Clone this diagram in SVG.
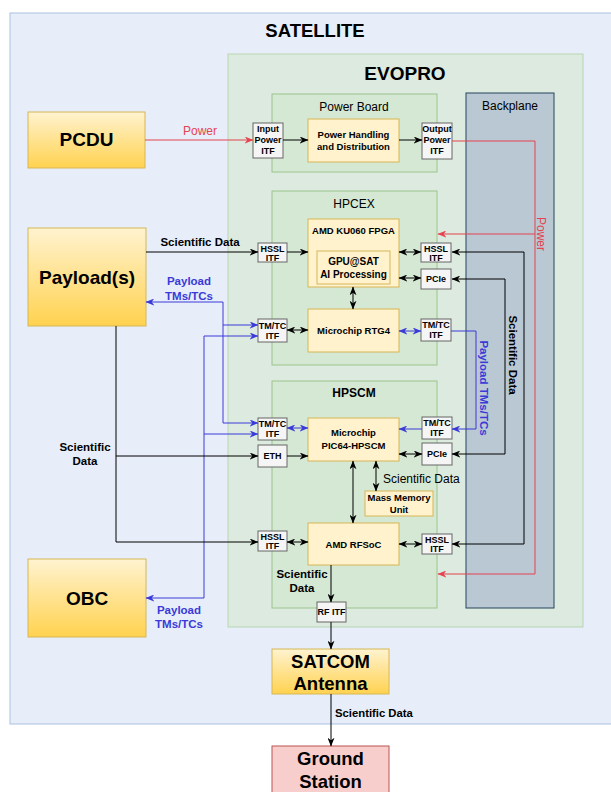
<svg xmlns="http://www.w3.org/2000/svg" width="611" height="792" viewBox="0 0 611 792">
<style>
text{font-family:"Liberation Sans",Arial,sans-serif;fill:#000}
.b{font-weight:bold}
.itf{fill:#F5F5F5;stroke:#666;stroke-width:1}
.comp{fill:#FFF2CC;stroke:#D6B656;stroke-width:1}
.board{fill:#D5E8D4;stroke:#9AC48C;stroke-width:1}
.ext{fill:url(#yg);stroke:#D6B656;stroke-width:1}
.ln{fill:none;stroke:#000;stroke-width:1}
.bl{fill:none;stroke:#3A3AD8;stroke-width:1}
.rd{fill:none;stroke:#E5434F;stroke-width:1}
.t9{font-size:9px;font-weight:bold}
.t95{font-size:9.5px;font-weight:bold}
</style>
<defs>
<linearGradient id="yg" x1="0" y1="0" x2="0" y2="1">
<stop offset="0" stop-color="#FFF3D0"/>
<stop offset="1" stop-color="#FFD24F"/>
</linearGradient>
<marker id="ak" viewBox="0 0 10 8" refX="9.5" refY="4" markerWidth="9" markerHeight="7" orient="auto-start-reverse" markerUnits="userSpaceOnUse"><path d="M0,0 L10,4 L0,8 L3,4 z" fill="#000"/></marker>
<marker id="ab" viewBox="0 0 10 8" refX="9.5" refY="4" markerWidth="9" markerHeight="7" orient="auto-start-reverse" markerUnits="userSpaceOnUse"><path d="M0,0 L10,4 L0,8 L3,4 z" fill="#3A3AD8"/></marker>
<marker id="ar" viewBox="0 0 10 8" refX="9.5" refY="4" markerWidth="9" markerHeight="7" orient="auto-start-reverse" markerUnits="userSpaceOnUse"><path d="M0,0 L10,4 L0,8 L3,4 z" fill="#E5434F"/></marker>
</defs>

<g id="satellite">
<rect x="10" y="13" width="610" height="711" fill="#E7EEF9" stroke="#A9C1E2"/>
<text x="315" y="37" class="b" font-size="18.5" text-anchor="middle">SATELLITE</text>
</g>
<g id="evopro">
<rect x="228" y="54" width="355" height="573" fill="#DCEADF" stroke="#B7D5B2"/>
<text x="405" y="80" class="b" font-size="19" text-anchor="middle">EVOPRO</text>
</g>
<g id="backplane">
<rect x="466" y="93" width="88" height="515" fill="#BAC8D3" stroke="#23445D"/>
<text x="510" y="110" font-size="12" text-anchor="middle">Backplane</text>
</g>
<g id="power-board">
<rect x="272" y="94" width="165" height="78" class="board"/>
<text x="354" y="111" font-size="12" text-anchor="middle">Power Board</text>
</g>
<g id="hpcex">
<rect x="272" y="191" width="165" height="174" class="board"/>
<text x="354" y="208" font-size="12" text-anchor="middle">HPCEX</text>
</g>
<g id="hpscm">
<rect x="272" y="381" width="165" height="227" class="board"/>
<text x="354" y="397" font-size="12" class="b" text-anchor="middle">HPSCM</text>
</g>

<g id="pcdu">
<rect x="28" y="112" width="117" height="56" class="ext"/>
<text x="86.5" y="146" class="b" font-size="19" text-anchor="middle">PCDU</text>
</g>
<g id="payloads">
<rect x="28" y="228" width="118" height="98" class="ext"/>
<text x="87" y="284" class="b" font-size="19" text-anchor="middle">Payload(s)</text>
</g>
<g id="obc">
<rect x="28" y="559" width="118" height="78" class="ext"/>
<text x="87" y="605" class="b" font-size="19" text-anchor="middle">OBC</text>
</g>
<g id="satcom">
<rect x="272" y="649" width="117" height="45" class="ext"/>
<text x="330.5" y="668" class="b" font-size="18.5" text-anchor="middle">SATCOM</text>
<text x="330.5" y="690" class="b" font-size="18.5" text-anchor="middle">Antenna</text>
</g>
<g id="ground-station">
<rect x="272" y="746" width="117" height="60" fill="#F8CECC" stroke="#B85450"/>
<text x="330.5" y="765" class="b" font-size="18.5" text-anchor="middle">Ground</text>
<text x="330.5" y="788" class="b" font-size="18.5" text-anchor="middle">Station</text>
</g>

<g id="input-power-itf">
<rect x="253" y="123" width="30" height="35" class="itf"/>
<text x="268" y="132" class="t9" text-anchor="middle">Input</text>
<text x="268" y="143" class="t9" text-anchor="middle">Power</text>
<text x="268" y="154" class="t9" text-anchor="middle">ITF</text>
</g>
<g id="power-handling">
<rect x="308" y="119" width="91" height="43" class="comp"/>
<text x="353.5" y="138" class="t95" text-anchor="middle">Power Handling</text>
<text x="353.5" y="150" class="t95" text-anchor="middle">and Distribution</text>
</g>
<g id="output-power-itf">
<rect x="422" y="123" width="30" height="36" class="itf"/>
<text x="437" y="132" class="t9" text-anchor="middle">Output</text>
<text x="437" y="143" class="t9" text-anchor="middle">Power</text>
<text x="437" y="154" class="t9" text-anchor="middle">ITF</text>
</g>

<g id="fpga">
<rect x="308" y="219" width="91" height="68" class="comp"/>
<text x="353.5" y="234" class="t95" text-anchor="middle">AMD KU060 FPGA</text>
</g>
<g id="gpu-sat">
<rect x="317" y="251" width="73" height="33" class="comp"/>
<text x="353.5" y="265" font-size="10" class="b" text-anchor="middle">GPU@SAT</text>
<text x="353.5" y="278" font-size="10" class="b" text-anchor="middle">AI Processing</text>
</g>
<g id="rtg4">
<rect x="308" y="309" width="91" height="43" class="comp"/>
<text x="353.5" y="334" class="t95" text-anchor="middle">Microchip RTG4</text>
</g>
<g id="hpcex-hssl-l">
<rect x="258" y="243" width="29" height="19" class="itf"/>
<text x="272.5" y="252" class="t9" text-anchor="middle">HSSL</text>
<text x="272.5" y="261" class="t9" text-anchor="middle">ITF</text>
</g>
<g id="hpcex-tmtc-l">
<rect x="258" y="319" width="29" height="23" class="itf"/>
<text x="272.5" y="329" class="t9" text-anchor="middle">TM/TC</text>
<text x="272.5" y="339" class="t9" text-anchor="middle">ITF</text>
</g>
<g id="hpcex-hssl-r">
<rect x="421" y="243" width="30" height="19" class="itf"/>
<text x="436" y="252" class="t9" text-anchor="middle">HSSL</text>
<text x="436" y="261" class="t9" text-anchor="middle">ITF</text>
</g>
<g id="hpcex-pcie">
<rect x="421" y="269" width="30" height="20" class="itf"/>
<text x="436" y="282" class="t9" text-anchor="middle">PCIe</text>
</g>
<g id="hpcex-tmtc-r">
<rect x="421" y="319" width="30" height="22" class="itf"/>
<text x="436" y="328" class="t9" text-anchor="middle">TM/TC</text>
<text x="436" y="338" class="t9" text-anchor="middle">ITF</text>
</g>

<g id="pic64">
<rect x="308" y="418" width="91" height="43" class="comp"/>
<text x="353.5" y="436" class="t95" text-anchor="middle">Microchip</text>
<text x="353.5" y="449" class="t95" text-anchor="middle">PIC64-HPSCM</text>
</g>
<g id="mmu">
<rect x="365" y="491" width="68" height="25" class="comp"/>
<text x="399" y="501" class="t95" text-anchor="middle">Mass Memory</text>
<text x="399" y="513" class="t95" text-anchor="middle">Unit</text>
</g>
<g id="rfsoc">
<rect x="308" y="523" width="91" height="42" class="comp"/>
<text x="353.5" y="548" class="t95" text-anchor="middle">AMD RFSoC</text>
</g>
<g id="hpscm-tmtc-l">
<rect x="258" y="418" width="29" height="22" class="itf"/>
<text x="272.5" y="427" class="t9" text-anchor="middle">TM/TC</text>
<text x="272.5" y="437" class="t9" text-anchor="middle">ITF</text>
</g>
<g id="hpscm-eth">
<rect x="258" y="445" width="29" height="22" class="itf"/>
<text x="272.5" y="459" class="t9" text-anchor="middle">ETH</text>
</g>
<g id="hpscm-hssl-l">
<rect x="258" y="531" width="29" height="20" class="itf"/>
<text x="272.5" y="540" class="t9" text-anchor="middle">HSSL</text>
<text x="272.5" y="549" class="t9" text-anchor="middle">ITF</text>
</g>
<g id="hpscm-tmtc-r">
<rect x="422" y="417" width="30" height="22" class="itf"/>
<text x="437" y="426" class="t9" text-anchor="middle">TM/TC</text>
<text x="437" y="436" class="t9" text-anchor="middle">ITF</text>
</g>
<g id="hpscm-pcie">
<rect x="422" y="443" width="30" height="22" class="itf"/>
<text x="437" y="457" class="t9" text-anchor="middle">PCIe</text>
</g>
<g id="hpscm-hssl-r">
<rect x="422" y="534" width="30" height="20" class="itf"/>
<text x="437" y="543" class="t9" text-anchor="middle">HSSL</text>
<text x="437" y="552" class="t9" text-anchor="middle">ITF</text>
</g>
<g id="rf-itf">
<rect x="317" y="602" width="29" height="20" class="itf"/>
<text x="331.5" y="615" class="t9" text-anchor="middle">RF ITF</text>
</g>

<g id="connectors">
<path class="rd" d="M145,140 H253" marker-end="url(#ar)"/>
<path class="ln" d="M283,140 H308" marker-end="url(#ak)"/>
<path class="ln" d="M399,140 H422" marker-end="url(#ak)"/>
<path class="rd" d="M452,141 H535 V574 H438" marker-end="url(#ar)"/>
<path class="rd" d="M535,234 H438" marker-end="url(#ar)"/>

<path class="ln" d="M146,252 H258" marker-end="url(#ak)"/>
<path class="ln" d="M287,252 H308" marker-end="url(#ak)"/>
<path class="ln" d="M399,252 H421" marker-start="url(#ak)" marker-end="url(#ak)"/>
<path class="ln" d="M399,278 H421" marker-start="url(#ak)" marker-end="url(#ak)"/>
<path class="ln" d="M353,287 V309" marker-start="url(#ak)" marker-end="url(#ak)"/>
<path class="ln" d="M287,330 H308" marker-start="url(#ak)" marker-end="url(#ak)"/>
<path class="bl" d="M399,331 H421" marker-start="url(#ab)" marker-end="url(#ab)"/>
<path class="bl" d="M451,331 H476 V429 H452" marker-end="url(#ab)"/>
<path class="bl" d="M422,429 H399" marker-end="url(#ab)"/>
<path class="ln" d="M399,454 H422" marker-start="url(#ak)" marker-end="url(#ak)"/>
<path class="ln" d="M452,252 H524 V544 H452" marker-start="url(#ak)" marker-end="url(#ak)"/>
<path class="ln" d="M452,279 H505 V454 H452" marker-start="url(#ak)" marker-end="url(#ak)"/>
<path class="ln" d="M399,544 H422" marker-start="url(#ak)" marker-end="url(#ak)"/>
<path class="ln" d="M353,461 V523" marker-start="url(#ak)" marker-end="url(#ak)"/>
<path class="ln" d="M376,461 V491" marker-start="url(#ak)" marker-end="url(#ak)"/>

<path class="bl" d="M258,325 H223 V302 H146" marker-start="url(#ab)" marker-end="url(#ab)"/>
<path class="bl" d="M223,325 V423 H258" marker-end="url(#ab)"/>
<path class="bl" d="M258,336 H204 V598 H146" marker-start="url(#ab)" marker-end="url(#ab)"/>
<path class="bl" d="M204,434 H258" marker-end="url(#ab)"/>
<path class="bl" d="M287,428 H308" marker-start="url(#ab)" marker-end="url(#ab)"/>

<path class="ln" d="M116,326 V542 H258" marker-end="url(#ak)"/>
<path class="ln" d="M116,456 H258" marker-end="url(#ak)"/>
<path class="ln" d="M287,456 H308" marker-end="url(#ak)"/>
<path class="ln" d="M287,542 H308" marker-start="url(#ak)" marker-end="url(#ak)"/>
<path class="ln" d="M331,565 V602" marker-end="url(#ak)"/>
<path class="ln" d="M331,622 V649" marker-end="url(#ak)"/>
<path class="ln" d="M331,694 V746" marker-end="url(#ak)"/>

<text x="200" y="135" font-size="12" fill="#E5434F" style="fill:#E5434F" text-anchor="middle">Power</text>
<text transform="translate(537,234) rotate(90)" font-size="12" style="fill:#E5434F" text-anchor="middle">Power</text>
<text x="200" y="246" class="b" font-size="11.5" text-anchor="middle">Scientific Data</text>
<text x="189" y="285" class="b" font-size="11.5" style="fill:#3A3AD8" text-anchor="middle">Payload</text>
<text x="189" y="300" class="b" font-size="11.5" style="fill:#3A3AD8" text-anchor="middle">TMs/TCs</text>
<text x="179" y="614" class="b" font-size="11.5" style="fill:#3A3AD8" text-anchor="middle">Payload</text>
<text x="179" y="628" class="b" font-size="11.5" style="fill:#3A3AD8" text-anchor="middle">TMs/TCs</text>
<text x="85" y="451" class="b" font-size="11.5" text-anchor="middle">Scientific</text>
<text x="85" y="465" class="b" font-size="11.5" text-anchor="middle">Data</text>
<text x="383" y="483" font-size="12">Scientific Data</text>
<text x="302" y="578" class="b" font-size="11.5" text-anchor="middle">Scientific</text>
<text x="302" y="592" class="b" font-size="11.5" text-anchor="middle">Data</text>
<text x="335" y="717" class="b" font-size="11.3">Scientific Data</text>
<text transform="translate(509,355) rotate(90)" class="b" font-size="11.5" text-anchor="middle">Scientific Data</text>
<text transform="translate(480,388) rotate(90)" class="b" font-size="11.5" style="fill:#3A3AD8" text-anchor="middle">Payload TMs/TCs</text>
</g>
</svg>
